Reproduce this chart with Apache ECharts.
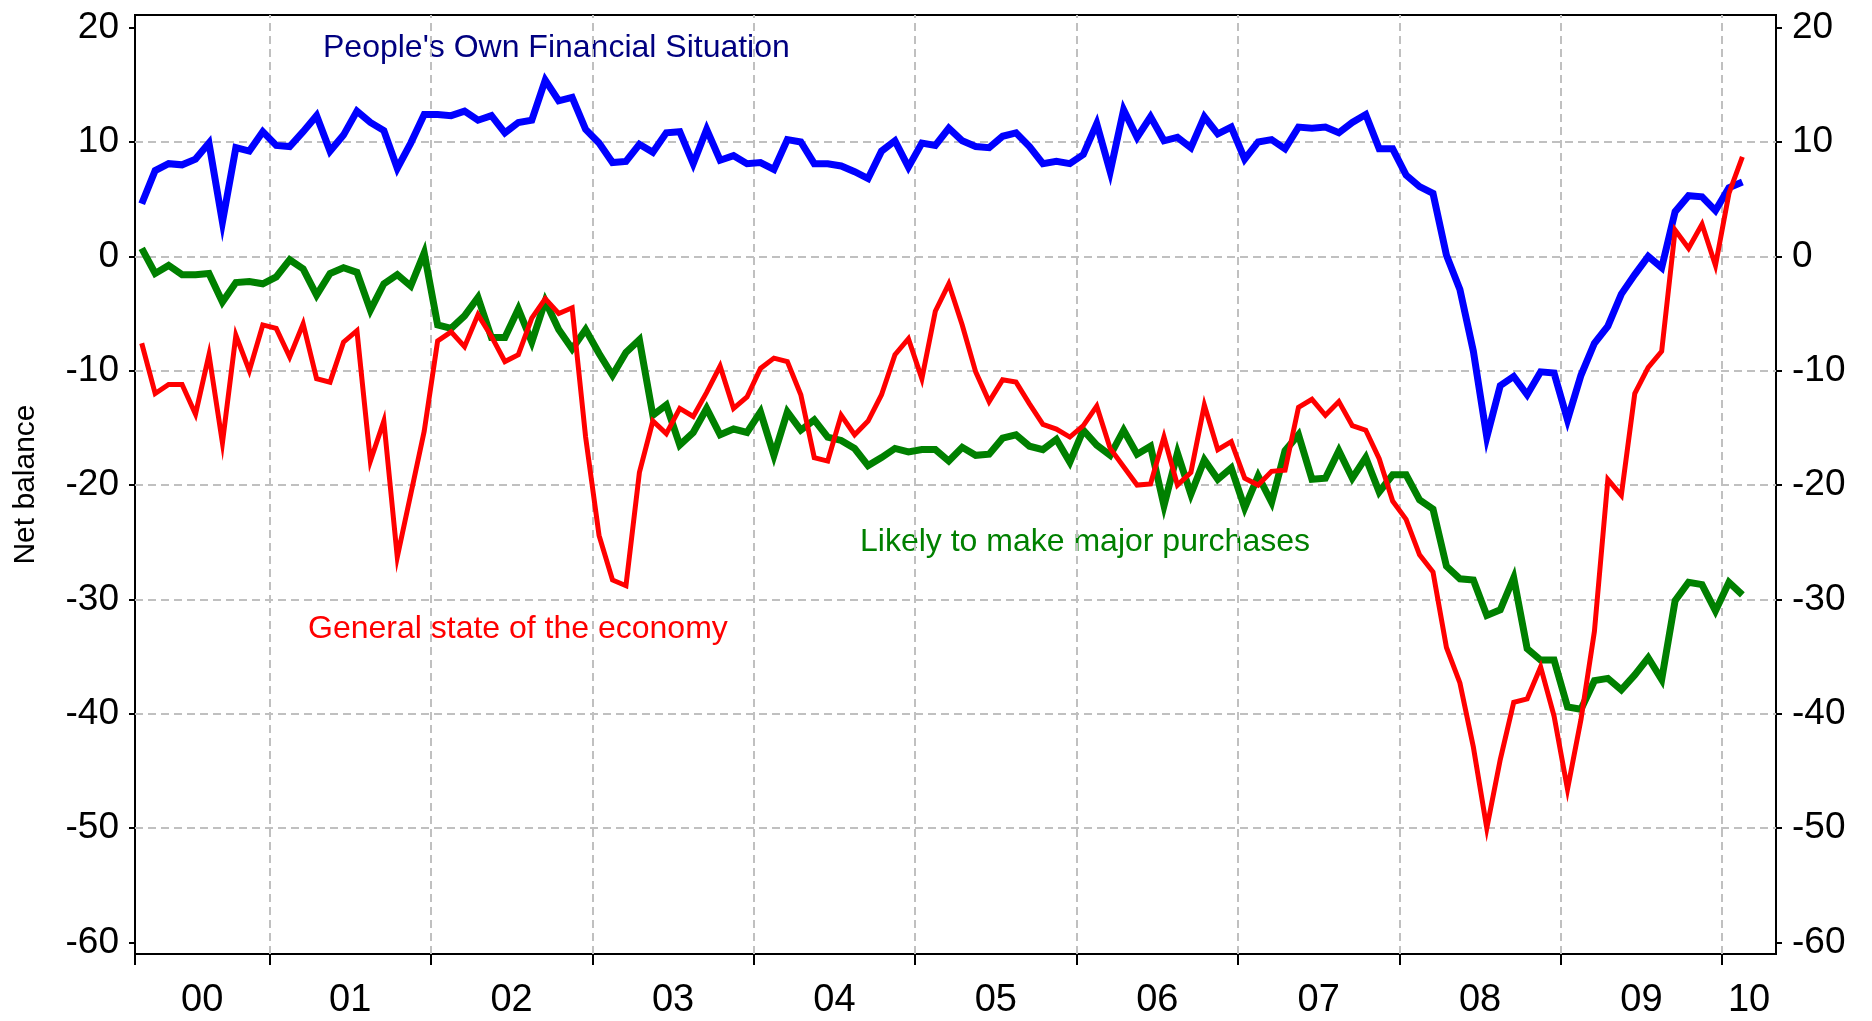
<!DOCTYPE html>
<html>
<head>
<meta charset="utf-8">
<title>Consumer confidence balances</title>
<script src="https://cdn.jsdelivr.net/npm/echarts@6/dist/echarts.min.js"></script>
<style>
  html, body { margin: 0; padding: 0; background: #fff; }
  #chart { width: 1872px; height: 1021px; }
</style>
</head>
<body>
<div id="chart"></div>
<script>
// monthly data, first point is Mar 2000, last is Feb 2010
// x is counted in months from Jan 2000
var firstMonth = 2;

var ownFinancial = [
  4.6, 7.5, 8.1, 8.0, 8.5, 9.9, 3.0, 9.5, 9.2, 10.9,
  9.7, 9.6, 10.9, 12.3, 9.2, 10.6, 12.7, 11.7, 11.0, 7.7, 9.9, 12.4,
  12.4, 12.3, 12.7, 11.9, 12.3, 10.8, 11.7, 11.9, 15.4, 13.6, 13.9, 11.1,
  9.9, 8.2, 8.3, 9.8, 9.1, 10.8, 10.9, 8.1, 11.1, 8.4, 8.8, 8.1,
  8.2, 7.6, 10.2, 10.0, 8.1, 8.1, 7.9, 7.4, 6.8, 9.2, 10.1, 7.8,
  9.9, 9.7, 11.2, 10.1, 9.6, 9.5, 10.5, 10.8, 9.6, 8.1, 8.3, 8.1,
  8.9, 11.6, 7.4, 12.8, 10.4, 12.2, 10.1, 10.4, 9.5, 12.2, 10.7, 11.3,
  8.5, 10.0, 10.2, 9.4, 11.3, 11.2, 11.3, 10.8, 11.7, 12.4, 9.4, 9.4,
  7.1, 6.1, 5.5, 0.1, -2.9, -8.3, -15.8, -11.3, -10.5, -12.1, -10.1, -10.2,
  -14.3, -10.4, -7.6, -6.1, -3.3, -1.6, 0.0, -1.0, 3.9, 5.3, 5.2, 4.0,
  6.0, 6.5
];

var majorPurchases = [
  0.7, -1.5, -0.8, -1.6, -1.6, -1.5, -4.0, -2.3, -2.2, -2.4,
  -1.8, -0.3, -1.1, -3.4, -1.5, -1.0, -1.4, -4.7, -2.4, -1.6, -2.6, 0.3,
  -6.0, -6.3, -5.2, -3.6, -7.1, -7.1, -4.6, -7.5, -3.9, -6.4, -8.1, -6.4,
  -8.5, -10.4, -8.4, -7.3, -13.9, -13.0, -16.5, -15.4, -13.3, -15.6, -15.1, -15.4,
  -13.6, -17.4, -13.6, -15.2, -14.3, -15.8, -16.1, -16.8, -18.3, -17.6, -16.8, -17.1,
  -16.9, -16.9, -17.9, -16.7, -17.4, -17.3, -15.9, -15.6, -16.6, -16.9, -16.0, -18.0,
  -15.2, -16.5, -17.4, -15.2, -17.3, -16.6, -21.8, -17.2, -20.8, -17.8, -19.5, -18.5,
  -22.0, -19.2, -21.5, -17.0, -15.6, -19.5, -19.4, -17.0, -19.4, -17.6, -20.6, -19.1,
  -19.1, -21.3, -22.1, -27.1, -28.2, -28.3, -31.4, -30.9, -28.1, -34.3, -35.3, -35.3,
  -39.4, -39.6, -37.1, -36.9, -37.9, -36.6, -35.1, -37.0, -30.1, -28.5, -28.7, -31.0,
  -28.5, -29.6
];

var generalEconomy = [
  -7.6, -12.0, -11.2, -11.2, -13.8, -8.6, -16.3, -6.9, -10.0, -6.0,
  -6.3, -8.8, -5.9, -10.7, -11.0, -7.5, -6.5, -17.9, -14.4, -26.3, -20.8, -15.3,
  -7.4, -6.6, -7.9, -5.1, -7.0, -9.2, -8.6, -5.4, -3.7, -5.0, -4.5, -15.8,
  -24.4, -28.3, -28.8, -18.9, -14.4, -15.5, -13.3, -14.0, -11.9, -9.6, -13.3, -12.3,
  -9.8, -8.9, -9.2, -12.1, -17.6, -17.9, -13.9, -15.6, -14.4, -12.1, -8.6, -7.2,
  -10.7, -4.8, -2.4, -6.0, -10.1, -12.7, -10.8, -11.0, -12.9, -14.7, -15.1, -15.8,
  -14.8, -13.1, -16.8, -18.4, -20.0, -19.9, -15.8, -20.0, -18.9, -13.0, -16.9, -16.2,
  -19.4, -20.0, -18.8, -18.7, -13.2, -12.5, -13.9, -12.7, -14.8, -15.2, -17.7, -21.4,
  -23.0, -26.1, -27.6, -34.2, -37.3, -42.9, -50.0, -44.0, -39.0, -38.7, -35.9, -40.2,
  -46.6, -40.5, -32.8, -19.5, -20.9, -12.0, -9.7, -8.3, 2.3, 0.7, 2.8, -0.8,
  5.5, 8.7
];

var yearLabels = ['00', '01', '02', '03', '04', '05', '06', '07', '08', '09', '10'];
var yearLabelPos = [7, 18, 30, 42, 54, 66, 78, 90, 102, 114, 122];
var yearTicks = [2, 12, 24, 36, 48, 60, 72, 84, 96, 108, 120];
var yearLines = [12, 24, 36, 48, 60, 72, 84, 96, 108, 120];
var yTicks = [-60, -50, -40, -30, -20, -10, 0, 10, 20];
var yLines = [-50, -40, -30, -20, -10, 0, 10];

var FONT = '"Liberation Sans", Arial, sans-serif';

function toPoints(values) {
  return values.map(function (v, i) {
    return [firstMonth + i + 0.5, v];
  });
}

var myChart = echarts.init(document.getElementById('chart'));

var gridLines = yearLines.map(function (m) { return { xAxis: m }; })
  .concat(yLines.map(function (v) { return { yAxis: v }; }));

function yAxisOpt(pos) {
  return {
    type: 'value',
    position: pos,
    min: -61.0,
    max: 21.1,
    splitLine: { show: false },
    axisLine: { show: true, onZero: false, lineStyle: { color: '#000', width: 2 } },
    axisTick: { show: true, customValues: yTicks, length: 6, lineStyle: { color: '#000', width: 2 } },
    axisLabel: {
      customValues: yTicks,
      margin: 16,
      color: '#000',
      fontSize: 37,
      fontFamily: FONT
    }
  };
}

var leftAxis = yAxisOpt('left');
leftAxis.name = 'Net balance';
leftAxis.nameLocation = 'middle';
leftAxis.nameRotate = 90;
leftAxis.nameGap = 94;
leftAxis.nameTextStyle = { color: '#000', fontSize: 30, fontFamily: FONT };

var option = {
  animation: false,
  backgroundColor: '#fff',
  grid: {
    left: 135,
    right: 96,
    top: 15,
    bottom: 67,
    containLabel: false,
    outerBoundsMode: 'none',
    show: true,
    borderColor: '#000',
    borderWidth: 2
  },
  xAxis: {
    type: 'value',
    min: 2,
    max: 124,
    splitLine: { show: false },
    axisLine: { show: true, onZero: false, lineStyle: { color: '#000', width: 2 } },
    axisTick: { show: true, customValues: yearTicks, length: 11, lineStyle: { color: '#000', width: 2 } },
    axisLabel: {
      customValues: yearLabelPos,
      margin: 28,
      color: '#000',
      fontSize: 38,
      fontFamily: FONT,
      formatter: function (val) {
        var i = yearLabelPos.indexOf(val);
        return i >= 0 ? yearLabels[i] : '';
      }
    }
  },
  yAxis: [leftAxis, yAxisOpt('right')],
  graphic: [
    {
      type: 'text', x: 323, y: 48,
      style: { text: "People's Own Financial Situation", fill: '#000080', font: '32px ' + FONT, verticalAlign: 'middle' }
    },
    {
      type: 'text', x: 308, y: 629,
      style: { text: 'General state of the economy', fill: '#ff0000', font: '32px ' + FONT, verticalAlign: 'middle' }
    },
    {
      type: 'text', x: 860, y: 542,
      style: { text: 'Likely to make major purchases', fill: '#008000', font: '32px ' + FONT, verticalAlign: 'middle' }
    }
  ],
  series: [
    {
      name: 'grid',
      type: 'line',
      data: [],
      markLine: {
        silent: true,
        z: 1,
        symbol: ['none', 'none'],
        label: { show: false },
        lineStyle: { color: '#c0c0c0', type: [8, 5], width: 2 },
        data: gridLines
      }
    },
    {
      name: "People's Own Financial Situation",
      type: 'line',
      data: toPoints(ownFinancial),
      showSymbol: false,
      lineStyle: { color: '#0000ff', width: 7, join: 'miter' },
      itemStyle: { color: '#0000ff' }
    },
    {
      name: 'Likely to make major purchases',
      type: 'line',
      data: toPoints(majorPurchases),
      showSymbol: false,
      lineStyle: { color: '#008000', width: 7, join: 'miter' },
      itemStyle: { color: '#008000' }
    },
    {
      name: 'General state of the economy',
      type: 'line',
      data: toPoints(generalEconomy),
      showSymbol: false,
      lineStyle: { color: '#ff0000', width: 5, join: 'miter' },
      itemStyle: { color: '#ff0000' }
    }
  ]
};

myChart.setOption(option);
window.addEventListener('resize', function () {
  myChart.resize();
});
</script>
</body>
</html>
